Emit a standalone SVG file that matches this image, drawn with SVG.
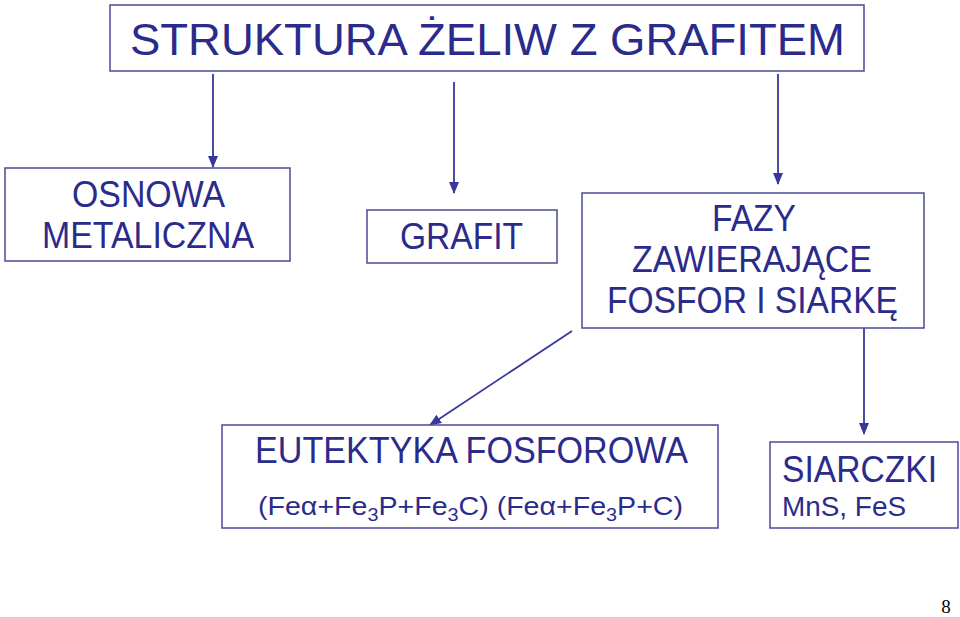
<svg xmlns="http://www.w3.org/2000/svg" width="960" height="617" viewBox="0 0 960 617">
<defs>
<style>
.box{fill:#fff;stroke:#4a4a96;stroke-width:1.5}
.t{font-family:"Liberation Sans",Arial,sans-serif;fill:#2b2b8c;text-anchor:middle}
.l{text-anchor:start}
.c{stroke:#38389a;stroke-width:1.8;fill:none}
</style>
<marker id="ah" viewBox="0 0 12 10" refX="11" refY="5" markerWidth="12" markerHeight="10" markerUnits="userSpaceOnUse" orient="auto"><path d="M0,0 L12,5 L0,10 z" fill="#38389a"/></marker>
</defs>
<rect width="960" height="617" fill="#fff"/>
<g id="connectors">
<line class="c" x1="213" y1="74" x2="213" y2="167" marker-end="url(#ah)"/>
<line class="c" x1="454" y1="82" x2="454" y2="193" marker-end="url(#ah)"/>
<line class="c" x1="778" y1="74" x2="778" y2="184" marker-end="url(#ah)"/>
<line class="c" x1="572" y1="331" x2="430" y2="425" marker-end="url(#ah)"/>
<line class="c" x1="864" y1="322" x2="864" y2="434" marker-end="url(#ah)"/>
</g>
<g id="title">
<rect class="box" x="110" y="5" width="754" height="66"/>
<text class="t" x="487.5" y="55" font-size="45" textLength="715" lengthAdjust="spacingAndGlyphs">STRUKTURA ŻELIW Z GRAFITEM</text>
</g>
<g id="osnowa">
<rect class="box" x="5" y="168" width="285" height="93"/>
<text class="t" x="148.5" y="207" font-size="36" textLength="153" lengthAdjust="spacingAndGlyphs">OSNOWA</text>
<text class="t" x="148" y="248" font-size="36" textLength="212" lengthAdjust="spacingAndGlyphs">METALICZNA</text>
</g>
<g id="grafit">
<rect class="box" x="367" y="210" width="190" height="53"/>
<text class="t" x="461.5" y="249" font-size="36" textLength="123" lengthAdjust="spacingAndGlyphs">GRAFIT</text>
</g>
<g id="fazy">
<rect class="box" x="582" y="193" width="342" height="135"/>
<text class="t" x="754" y="231" font-size="36" textLength="84" lengthAdjust="spacingAndGlyphs">FAZY</text>
<text class="t" x="752" y="272" font-size="36" textLength="240" lengthAdjust="spacingAndGlyphs">ZAWIERAJĄCE</text>
<text class="t" x="752.5" y="313" font-size="36" textLength="291" lengthAdjust="spacingAndGlyphs">FOSFOR I SIARKĘ</text>
</g>
<g id="eutektyka">
<rect class="box" x="222" y="425" width="496" height="103"/>
<text class="t" x="471.5" y="463" font-size="36" textLength="433" lengthAdjust="spacingAndGlyphs">EUTEKTYKA FOSFOROWA</text>
<text class="t l" x="258" y="515" font-size="26" textLength="425" lengthAdjust="spacingAndGlyphs">(Feα+Fe<tspan font-size="18" dy="6">3</tspan><tspan dy="-6">P+Fe</tspan><tspan font-size="18" dy="6">3</tspan><tspan dy="-6">C) (Feα+Fe</tspan><tspan font-size="18" dy="6">3</tspan><tspan dy="-6">P+C)</tspan></text>
</g>
<g id="siarczki">
<rect class="box" x="770" y="442" width="188" height="86"/>
<text class="t l" x="782" y="482" font-size="36" textLength="155" lengthAdjust="spacingAndGlyphs">SIARCZKI</text>
<text class="t l" x="782" y="516" font-size="28" textLength="124" lengthAdjust="spacingAndGlyphs">MnS, FeS</text>
</g>
<text x="946" y="613" font-family="'Liberation Serif',serif" font-size="19" fill="#000" text-anchor="middle">8</text>
</svg>
